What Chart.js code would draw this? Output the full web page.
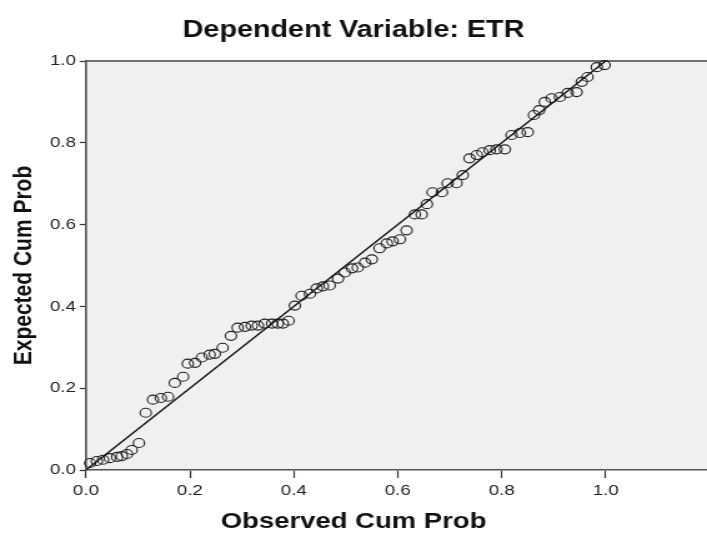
<!DOCTYPE html>
<html>
<head>
<meta charset="utf-8">
<script src="https://cdn.jsdelivr.net/npm/chart.js@4.4.1/dist/chart.umd.min.js"></script>
<style>
  html, body { margin: 0; padding: 0; background: #fff; }
  /* the source picture is a horizontally stretched SPSS plot, so the canvas is stretched too */
  #pp { display: block; width: 707px !important; height: 536px !important; }
</style>
</head>
<body>
<canvas id="pp" width="566" height="536"></canvas>
<script>
// P-P plot of regression standardized residual
const observedCum = [
  0.008, 0.021, 0.033, 0.046, 0.060, 0.069, 0.079, 0.088, 0.102, 0.115,
  0.129, 0.144, 0.158, 0.171, 0.187, 0.196, 0.210, 0.223, 0.238, 0.248,
  0.263, 0.279, 0.292, 0.306, 0.319, 0.331, 0.344, 0.358, 0.369, 0.379,
  0.390, 0.402, 0.415, 0.431, 0.444, 0.456, 0.469, 0.485, 0.498, 0.512,
  0.523, 0.537, 0.550, 0.565, 0.579, 0.590, 0.604, 0.617, 0.633, 0.646,
  0.656, 0.667, 0.685, 0.696, 0.713, 0.725, 0.738, 0.752, 0.763, 0.777,
  0.790, 0.806, 0.819, 0.835, 0.850, 0.862, 0.872, 0.883, 0.896, 0.912,
  0.927, 0.944, 0.954, 0.965, 0.983, 0.998
];
const expectedCum = [
  0.017, 0.022, 0.025, 0.029, 0.032, 0.034, 0.039, 0.049, 0.066, 0.140,
  0.172, 0.176, 0.179, 0.213, 0.228, 0.260, 0.262, 0.275, 0.282, 0.284,
  0.299, 0.328, 0.348, 0.350, 0.353, 0.353, 0.358, 0.358, 0.358, 0.358,
  0.365, 0.402, 0.426, 0.431, 0.444, 0.449, 0.451, 0.468, 0.483, 0.493,
  0.495, 0.507, 0.515, 0.542, 0.554, 0.559, 0.564, 0.586, 0.625, 0.625,
  0.650, 0.679, 0.679, 0.701, 0.701, 0.721, 0.762, 0.770, 0.777, 0.782,
  0.784, 0.784, 0.819, 0.824, 0.826, 0.868, 0.880, 0.900, 0.909, 0.912,
  0.922, 0.924, 0.949, 0.961, 0.985, 0.990
];
const xTickValues = [0, 0.2, 0.4, 0.6, 0.8, 1.0];
const yTickValues = [0, 0.2, 0.4, 0.6, 0.8, 1.0];
const diagonalEnds = [0, 1];

const chartTitle = 'Dependent Variable: ETR';
const xTitle = 'Observed Cum Prob';
const yTitle = 'Expected Cum Prob';

const points = observedCum.map((x, i) => ({ x: x, y: expectedCum[i] }));
const diagonal = diagonalEnds.map(v => ({ x: v, y: v }));

const fontFamily = "Arial, 'Liberation Sans', sans-serif";

// grey plot area and the top frame line
const plotFrame = {
  id: 'plotFrame',
  beforeDraw(chart) {
    const { ctx, chartArea: a } = chart;
    ctx.save();
    ctx.fillStyle = '#f0f0f0';
    ctx.fillRect(a.left, a.top, a.right - a.left, a.bottom - a.top);
    ctx.strokeStyle = '#444';
    ctx.lineWidth = 1.5;
    ctx.beginPath();
    ctx.moveTo(a.left, a.top);
    ctx.lineTo(a.right, a.top);
    ctx.stroke();
    ctx.restore();
  }
};

new Chart(document.getElementById('pp'), {
  type: 'scatter',
  data: {
    datasets: [
      {
        type: 'line',
        label: 'diagonal',
        data: diagonal,
        borderColor: '#111',
        borderWidth: 1.4,
        pointRadius: 0,
        fill: false
      },
      {
        label: 'residuals',
        data: points,
        pointRadius: 4.5,
        pointBorderWidth: 1.1,
        pointBorderColor: '#222',
        pointBackgroundColor: 'rgba(0,0,0,0)',
        clip: false
      }
    ]
  },
  options: {
    responsive: false,
    animation: false,
    events: [],
    layout: { padding: 0, autoPadding: false },
    scales: {
      x: {
        type: 'linear',
        min: 0,
        max: 1.195,
        afterBuildTicks: s => { s.ticks = xTickValues.map(v => ({ value: v })); },
        afterFit: s => { s.height = 38.6; s.paddingLeft = 0; s.paddingRight = 0; },
        ticks: {
          callback: v => v.toFixed(1),
          font: { family: fontFamily, size: 15 },
          color: '#222',
          padding: 4,
          maxRotation: 0
        },
        grid: { drawOnChartArea: false, tickLength: 8, tickColor: '#333', tickWidth: 1.2 },
        border: { color: '#555', width: 1.6 }
      },
      y: {
        type: 'linear',
        min: 0,
        max: 1,
        afterBuildTicks: s => { s.ticks = yTickValues.map(v => ({ value: v })); },
        afterFit: s => { s.width = 68.8; s.paddingTop = 0; s.paddingBottom = 0; },
        ticks: {
          callback: v => v.toFixed(1),
          font: { family: fontFamily, size: 15 },
          color: '#222',
          padding: 3
        },
        grid: { drawOnChartArea: false, tickLength: 5, tickColor: '#333', tickWidth: 1.2 },
        border: { color: '#555', width: 1.6 },
        title: {
          display: true,
          text: yTitle,
          font: { family: fontFamily, size: 21, weight: 'bold' },
          color: '#111',
          padding: { top: 7, bottom: 0 }
        }
      }
    },
    plugins: {
      legend: { display: false },
      tooltip: { enabled: false },
      title: {
        display: true,
        text: chartTitle,
        font: { family: fontFamily, size: 23, weight: 'bold' },
        color: '#111',
        padding: { top: 17, bottom: 16.4 }
      },
      subtitle: {
        display: true,
        position: 'bottom',
        text: xTitle,
        font: { family: fontFamily, size: 22, weight: 'bold' },
        color: '#111',
        padding: { top: 0, bottom: 1 }
      }
    }
  },
  plugins: [plotFrame]
});
</script>
</body>
</html>
